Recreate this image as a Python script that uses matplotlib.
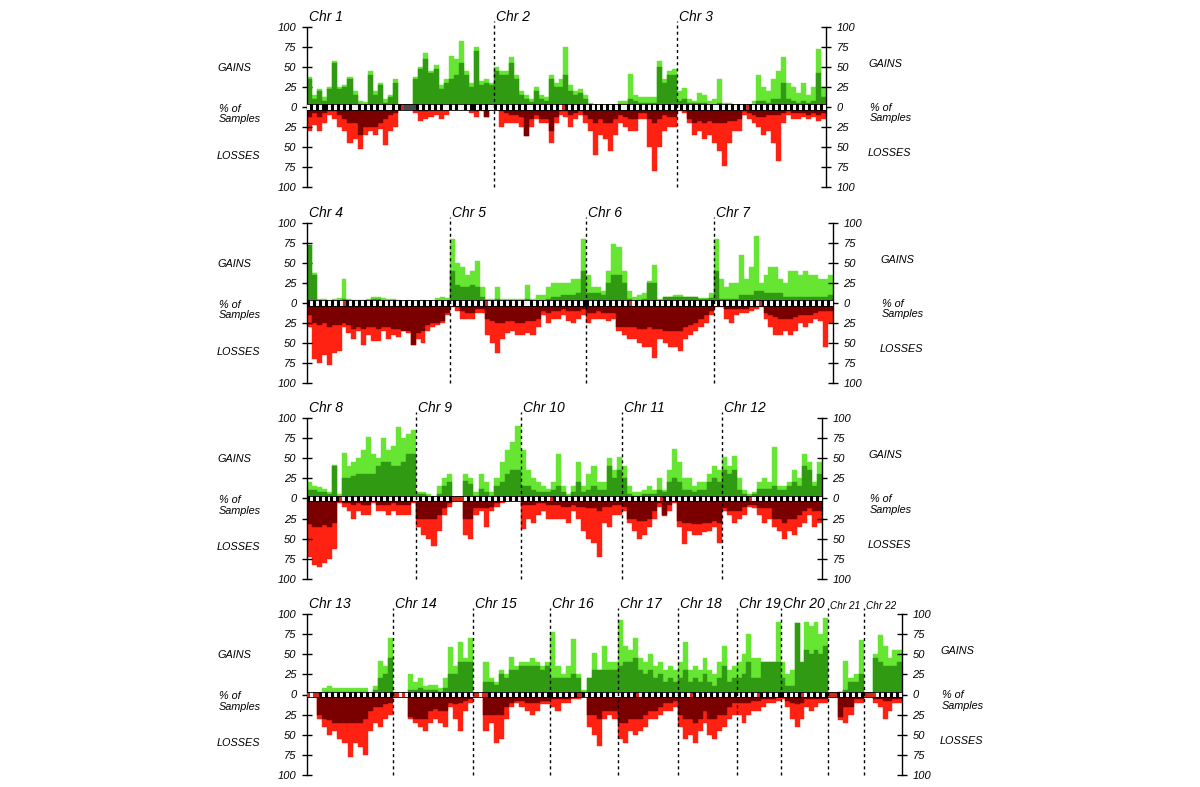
import numpy as np
import matplotlib.pyplot as plt

# ---------------------------------------------------------------
# chromosome sizes (Mb) and simplified ideogram band strings
# k = dark band, w = light band, r = centromere / acrocentric arm, g = heterochromatin
# ---------------------------------------------------------------
chrom_len = [249, 243, 198, 191, 181, 171, 159, 146, 141, 136, 135, 134,
             115, 107, 103, 90, 81, 78, 59, 63, 48, 51]
rows = [[1, 2, 3], [4, 5, 6, 7], [8, 9, 10, 11, 12],
        [13, 14, 15, 16, 17, 18, 19, 20, 21, 22]]

band1 = "wkwkwkkwkwkwkwkwwkwkwkwkwkwwkwk" + "r" + "gggg" + "kwkwkwkwkwwkwkwwkwkkwkwkww"
band2 = "kwkwkwkwkwkwwkwkwkwkwkw" + "r" + "kwkwkwkwkwkwkwkwkwkwwkwkwkwkwkwkwkwkwk"
band3 = "wkwkwkwkwkwkwwkwkwkwkwk" + "r" + "kwkwkwkwkwkwkwkwkwkwkwkwkw"
band4 = "kwkwkwkwkwkw" + "r" + "kwkwkwkwkwkwkwkwkwkwkwkwkwkwkwkwkwk"
band5 = "wkwkwkwkwkwk" + "r" + "wkwkwkwkwkwkwwkwkwkwkwkwkwkwkwkwk"
band6 = "kwkwkwkwkwkwkwk" + "r" + "wkwkwkwkwkwkwkwkwkwkwkwkwkwk"
band7 = "wkwkwkwkwkwkwkw" + "r" + "kwkwkwkwkwkwkwkwkwkwkwkw"
band8 = "kwkwkwkwkwk" + "r" + "wkwkwkwkwkwkwkwkwkwkwkwkw"
band9 = "wkwkwkwkwkwk" + "rrrr" + "wkwkwkwkwkwkwkwkwkw"
band10 = "kwkwkwkwkw" + "r" + "kwkwkwkwkwkwkwkwkwkwkwk"
band11 = "wkwkwkwkwkwkw" + "r" + "kwkwkwkwkwkwkwkwkwkw"
band12 = "kwkwkwkwk" + "r" + "wkwkwkwkwkwkwkwkwkwkwkw"
band13 = "rwrr" + "kwkwkwkwkwkwkwkwkwkwkwkwk"
band14 = "rrwr" + "wkwkwkwkwkwkwkwkwkwkwkw"
band15 = "rrwrr" + "kwkwkwkwkwkwkwkwkwkwk"
band16 = "kwkwkwkwk" + "rr" + "kwkwkwkwkwkw"
band17 = "wkwkwk" + "r" + "wkwkwkwkwkwkw"
band18 = "kwkw" + "r" + "kwkwkwkwkwkwkwk"
band19 = "wkwkwkw" + "r" + "kwkwkwk"
band20 = "kwkwkwk" + "r" + "wkwkwkwk"
band21 = "rrr" + "kwkwkwkwk"
band22 = "rrrr" + "wkwkwkwkw"

# ---------------------------------------------------------------
# % of samples, equal-width bins along each chromosome
# gain = all gains (light green), gain_hi = dark green
# loss = all losses (red), loss_hi = dark red
# ---------------------------------------------------------------
gain1 = [38, 15, 22, 12, 25, 58, 25, 28, 38, 20, 8, 6, 45, 20, 30, 10, 15, 35, 0, 0, 0,
         38, 50, 68, 45, 52, 28, 35, 64, 60, 83, 45, 30, 75, 32, 35, 30]
gain1_hi = [35, 10, 20, 8, 22, 55, 22, 25, 35, 15, 4, 3, 40, 15, 28, 5, 12, 30, 0, 0, 0,
            35, 48, 60, 42, 48, 22, 30, 35, 40, 55, 40, 25, 70, 28, 30, 28]
loss1 = [30, 22, 30, 20, 10, 15, 25, 30, 45, 40, 53, 35, 30, 35, 28, 47, 30, 25, 0, 0, 0,
         8, 18, 15, 12, 10, 15, 10, 2, 3, 2, 3, 8, 12, 5, 12, 4]
loss1_hi = [12, 8, 12, 8, 5, 5, 10, 15, 20, 20, 35, 25, 25, 25, 20, 15, 10, 8, 0, 0, 0,
            0, 5, 5, 3, 3, 3, 3, 1, 1, 1, 1, 3, 5, 3, 12, 2]

gain2 = [50, 45, 45, 62, 40, 20, 15, 10, 25, 15, 12, 40, 30, 35, 75, 28, 20, 22, 15,
         5, 3, 3, 3, 3, 3, 8, 8, 41, 15, 12, 12, 12, 12, 58, 35, 45, 47]
gain2_hi = [45, 40, 40, 55, 35, 15, 10, 6, 20, 10, 8, 35, 25, 25, 40, 20, 15, 18, 10,
            3, 2, 2, 2, 2, 2, 4, 4, 10, 8, 5, 5, 5, 5, 50, 30, 40, 40]
loss2 = [2, 25, 20, 20, 20, 25, 36, 25, 15, 20, 20, 45, 20, 10, 12, 25, 15, 10, 20,
         30, 60, 35, 40, 55, 35, 20, 25, 30, 30, 15, 15, 50, 80, 50, 30, 25, 25]
loss2_hi = [0, 5, 8, 10, 10, 12, 36, 15, 10, 15, 15, 30, 12, 5, 5, 10, 8, 5, 10,
            15, 20, 15, 20, 20, 15, 10, 12, 15, 15, 8, 8, 15, 20, 15, 10, 12, 12]

gain3 = [20, 24, 10, 8, 18, 15, 8, 10, 35, 5, 5, 3, 3, 2, 2, 8, 40, 25, 20, 35,
         45, 62, 30, 25, 18, 30, 15, 25, 72, 25]
gain3_hi = [8, 10, 5, 5, 5, 5, 3, 3, 5, 2, 2, 1, 1, 1, 1, 3, 8, 8, 5, 10,
            10, 30, 10, 8, 5, 8, 5, 8, 42, 12]
loss3 = [5, 8, 20, 35, 30, 40, 35, 45, 55, 74, 45, 30, 30, 10, 15, 20, 25, 35, 30, 45,
         68, 20, 10, 15, 15, 12, 15, 12, 18, 15]
loss3_hi = [3, 5, 15, 20, 18, 20, 18, 20, 20, 20, 18, 18, 15, 5, 8, 10, 12, 12, 10, 10,
            10, 8, 5, 8, 8, 8, 10, 8, 10, 8]

gain4 = [72, 38, 5, 5, 4, 5, 6, 30, 5, 4, 4, 4, 5, 8, 8, 6, 5, 5, 4, 3, 4, 3, 3, 4, 3, 3, 6, 7, 6]
gain4_hi = [72, 35, 2, 2, 2, 2, 3, 5, 2, 2, 2, 2, 3, 5, 5, 3, 3, 3, 2, 2, 2, 2, 2, 2, 2, 2, 2, 2, 2]
loss4 = [30, 70, 75, 65, 78, 62, 60, 30, 38, 45, 35, 52, 40, 48, 48, 35, 45, 40, 42, 35,
         38, 52, 45, 50, 35, 30, 28, 25, 15]
loss4_hi = [15, 25, 28, 25, 30, 28, 28, 25, 28, 32, 30, 32, 30, 30, 32, 30, 30, 32, 32, 35,
            35, 52, 38, 35, 28, 25, 25, 22, 12]

gain5 = [80, 50, 45, 35, 40, 53, 20, 5, 5, 20, 5, 5, 5, 5, 5, 22, 5, 10, 10, 20, 25, 25,
         25, 25, 30, 30, 80]
gain5_hi = [40, 22, 20, 20, 22, 20, 8, 2, 2, 5, 2, 2, 2, 2, 2, 5, 2, 3, 3, 5, 8, 8,
            10, 10, 10, 12, 40]
loss5 = [5, 10, 20, 20, 20, 12, 12, 40, 50, 62, 45, 38, 35, 40, 40, 38, 40, 30, 15, 25,
         20, 20, 15, 22, 25, 20, 15]
loss5_hi = [2, 5, 10, 12, 12, 8, 8, 20, 22, 25, 25, 22, 22, 25, 25, 22, 22, 20, 10, 12,
            10, 10, 8, 10, 10, 10, 8]

gain6 = [35, 20, 20, 15, 40, 74, 70, 40, 15, 8, 10, 12, 28, 47, 5, 8, 8, 10, 10, 8, 8, 8,
         6, 6, 12]
gain6_hi = [12, 12, 12, 10, 25, 35, 35, 25, 5, 3, 4, 5, 25, 25, 3, 8, 8, 8, 8, 8, 8, 8,
            5, 5, 6]
loss6 = [25, 20, 20, 20, 22, 20, 35, 40, 45, 45, 50, 55, 55, 69, 45, 50, 55, 55, 60, 45,
         40, 35, 30, 25, 15]
loss6_hi = [12, 12, 10, 12, 12, 12, 30, 30, 30, 30, 32, 32, 30, 32, 32, 35, 35, 35, 35, 30,
            28, 25, 20, 15, 10]

gain7 = [80, 30, 20, 25, 25, 60, 30, 45, 84, 25, 35, 45, 45, 30, 25, 40, 40, 35, 40, 35,
         35, 30, 30, 35]
gain7_hi = [40, 5, 5, 5, 5, 10, 10, 10, 15, 15, 12, 12, 12, 12, 8, 8, 8, 8, 8, 8,
            8, 8, 8, 10]
loss7 = [5, 5, 20, 25, 15, 12, 12, 10, 8, 5, 20, 30, 40, 40, 35, 40, 35, 25, 30, 25,
         20, 22, 55, 25]
loss7_hi = [2, 2, 8, 8, 8, 8, 8, 5, 5, 3, 12, 15, 18, 20, 20, 20, 18, 15, 15, 15,
            12, 10, 10, 10]

gain8 = [20, 16, 14, 12, 8, 41, 5, 56, 40, 45, 50, 60, 77, 55, 50, 75, 60, 65, 89, 75, 80, 85]
gain8_hi = [10, 10, 8, 8, 5, 40, 2, 25, 25, 28, 30, 30, 30, 30, 40, 45, 45, 40, 40, 45, 55, 55]
loss8 = [73, 82, 85, 80, 75, 63, 5, 10, 15, 25, 15, 20, 20, 5, 15, 15, 20, 15, 20, 20, 20, 5]
loss8_hi = [32, 35, 35, 33, 35, 30, 2, 5, 5, 8, 5, 8, 8, 3, 8, 8, 8, 5, 8, 8, 8, 3]

gain9 = [8, 8, 5, 3, 15, 25, 30, 0, 0, 30, 25, 8, 30, 20, 8, 25, 45, 60, 70, 90]
gain9_hi = [5, 5, 3, 2, 5, 15, 20, 0, 0, 22, 18, 3, 12, 8, 3, 15, 20, 30, 35, 35]
loss9 = [35, 45, 50, 59, 40, 20, 10, 0, 0, 45, 50, 20, 15, 35, 15, 10, 5, 3, 3, 3]
loss9_hi = [25, 25, 25, 25, 20, 12, 5, 0, 0, 25, 25, 12, 12, 12, 10, 5, 2, 1, 1, 1]

gain10 = [60, 35, 25, 20, 15, 12, 20, 55, 15, 5, 15, 45, 15, 30, 40, 20, 20, 50, 35, 52]
gain10_hi = [15, 15, 10, 8, 8, 8, 10, 15, 8, 3, 8, 20, 8, 10, 15, 10, 10, 40, 25, 35]
loss10 = [38, 25, 30, 20, 15, 25, 25, 25, 25, 30, 15, 25, 40, 50, 55, 73, 30, 35, 20, 20]
loss10_hi = [8, 8, 8, 5, 5, 8, 8, 8, 10, 10, 8, 10, 10, 12, 12, 15, 10, 10, 8, 8]

gain11 = [40, 15, 8, 8, 10, 15, 10, 25, 10, 35, 62, 45, 25, 25, 15, 20, 20, 30, 40, 35]
gain11_hi = [25, 5, 3, 3, 5, 5, 5, 10, 8, 20, 25, 20, 10, 10, 8, 10, 10, 20, 25, 20]
loss11 = [15, 30, 40, 50, 45, 35, 25, 10, 22, 15, 5, 35, 57, 40, 45, 45, 42, 40, 35, 55]
loss11_hi = [10, 25, 25, 28, 28, 25, 15, 5, 20, 8, 3, 28, 30, 30, 32, 32, 30, 30, 28, 30]

gain12 = [52, 40, 53, 25, 10, 5, 8, 20, 25, 20, 64, 15, 15, 20, 35, 25, 55, 45, 20, 45]
gain12_hi = [35, 30, 35, 10, 5, 3, 5, 12, 12, 12, 15, 10, 10, 15, 20, 15, 40, 35, 15, 30]
loss12 = [15, 20, 30, 25, 20, 10, 12, 20, 30, 25, 35, 40, 50, 40, 45, 35, 30, 20, 35, 30]
loss12_hi = [12, 15, 15, 15, 10, 8, 8, 12, 12, 12, 25, 25, 30, 25, 25, 20, 15, 12, 15, 15]

gain13 = [0, 0, 0, 8, 10, 8, 8, 8, 8, 8, 8, 8, 2, 10, 42, 35, 70]
gain13_hi = [0, 0, 0, 3, 3, 3, 3, 3, 3, 3, 3, 3, 1, 5, 20, 25, 45]
loss13 = [0, 0, 30, 40, 50, 45, 55, 60, 78, 60, 65, 75, 45, 35, 40, 30, 25]
loss13_hi = [0, 0, 25, 30, 32, 35, 35, 35, 35, 35, 35, 30, 20, 15, 15, 12, 10]

gain14 = [0, 0, 0, 26, 15, 20, 10, 12, 12, 8, 20, 59, 35, 65, 45, 70]
gain14_hi = [0, 0, 0, 5, 5, 8, 5, 5, 5, 3, 8, 25, 25, 40, 40, 40]
loss14 = [0, 0, 0, 30, 35, 40, 45, 35, 30, 35, 40, 15, 30, 45, 20, 10]
loss14_hi = [0, 0, 0, 28, 30, 30, 30, 20, 18, 20, 20, 10, 12, 10, 8, 5]

gain15 = [0, 0, 40, 20, 15, 30, 25, 47, 35, 40, 40, 45, 40, 35, 40]
gain15_hi = [0, 0, 15, 15, 12, 25, 20, 30, 30, 35, 35, 35, 35, 30, 35]
loss15 = [0, 0, 45, 35, 60, 55, 30, 15, 10, 15, 20, 25, 20, 12, 12]
loss15_hi = [0, 0, 25, 25, 25, 25, 15, 10, 8, 8, 10, 10, 10, 8, 8]

gain16 = [78, 35, 25, 35, 69, 25, 5, 20, 51, 30, 60, 40, 40]
gain16_hi = [20, 20, 20, 20, 25, 20, 3, 20, 30, 30, 30, 30, 30]
loss16 = [15, 20, 10, 10, 5, 5, 0, 40, 50, 64, 30, 25, 30]
loss16_hi = [5, 5, 5, 5, 3, 3, 0, 25, 25, 30, 20, 20, 20]

gain17 = [92, 60, 55, 70, 45, 40, 50, 35, 40, 30, 35, 30]
gain17_hi = [35, 40, 40, 45, 30, 25, 30, 20, 25, 15, 20, 15]
loss17 = [55, 60, 45, 50, 45, 40, 30, 30, 25, 20, 20, 15]
loss17_hi = [35, 35, 30, 30, 30, 25, 20, 20, 15, 10, 10, 8]

gain18 = [40, 65, 30, 35, 30, 45, 30, 25, 40, 60, 30, 35]
gain18_hi = [20, 30, 15, 20, 15, 25, 15, 10, 20, 35, 15, 20]
loss18 = [40, 55, 50, 60, 45, 35, 50, 55, 45, 40, 30, 25]
loss18_hi = [25, 30, 30, 35, 30, 20, 30, 30, 25, 25, 15, 10]

gain19 = [40, 50, 75, 45, 45, 40, 40, 40, 90]
gain19_hi = [20, 25, 40, 20, 20, 40, 40, 40, 40]
loss19 = [25, 35, 25, 20, 20, 15, 10, 10, 8]
loss19_hi = [10, 10, 10, 8, 8, 5, 5, 5, 3]

gain20 = [40, 25, 30, 89, 30, 90, 85, 90, 75, 95]
gain20_hi = [20, 10, 10, 89, 40, 55, 50, 55, 50, 60]
loss20 = [5, 15, 30, 40, 30, 15, 20, 15, 10, 10]
loss20_hi = [3, 8, 10, 12, 10, 5, 5, 5, 5, 5]

gain21 = [0, 0, 3, 41, 20, 25, 68]
gain21_hi = [0, 0, 3, 5, 15, 15, 25]
loss21 = [0, 0, 32, 35, 25, 10, 10]
loss21_hi = [0, 0, 28, 15, 15, 5, 5]

gain22 = [0, 0, 50, 74, 60, 45, 55, 55]
gain22_hi = [0, 0, 45, 40, 35, 35, 35, 40]
loss22 = [0, 0, 10, 15, 30, 20, 10, 10]
loss22_hi = [0, 0, 5, 5, 8, 8, 5, 5]

gains = [gain1, gain2, gain3, gain4, gain5, gain6, gain7, gain8, gain9, gain10, gain11,
         gain12, gain13, gain14, gain15, gain16, gain17, gain18, gain19, gain20, gain21, gain22]
gains_hi = [gain1_hi, gain2_hi, gain3_hi, gain4_hi, gain5_hi, gain6_hi, gain7_hi, gain8_hi,
            gain9_hi, gain10_hi, gain11_hi, gain12_hi, gain13_hi, gain14_hi, gain15_hi,
            gain16_hi, gain17_hi, gain18_hi, gain19_hi, gain20_hi, gain21_hi, gain22_hi]
losses = [loss1, loss2, loss3, loss4, loss5, loss6, loss7, loss8, loss9, loss10, loss11,
          loss12, loss13, loss14, loss15, loss16, loss17, loss18, loss19, loss20, loss21, loss22]
losses_hi = [loss1_hi, loss2_hi, loss3_hi, loss4_hi, loss5_hi, loss6_hi, loss7_hi, loss8_hi,
             loss9_hi, loss10_hi, loss11_hi, loss12_hi, loss13_hi, loss14_hi, loss15_hi,
             loss16_hi, loss17_hi, loss18_hi, loss19_hi, loss20_hi, loss21_hi, loss22_hi]
bands = [band1, band2, band3, band4, band5, band6, band7, band8, band9, band10, band11,
         band12, band13, band14, band15, band16, band17, band18, band19, band20, band21, band22]

ytick_vals = [100, 75, 50, 25, 0, -25, -50, -75, -100]
ytick_labels = ["100", "75", "50", "25", "0", "25", "50", "75", "100"]

# ---------------------------------------------------------------
# styling
# ---------------------------------------------------------------
LIGHT_GREEN = '#66e633'
DARK_GREEN = '#2f9a12'
RED = '#ff2212'
DARK_RED = '#7a0000'
BAND_COLORS = {'k': '#000000', 'w': '#f2f2f2', 'r': '#d42a1e', 'g': '#4a4a4a'}
BH = 3.2   # half height of the ideogram strip (in % units)
FONT = ['Liberation Sans', 'DejaVu Sans']

W, H = 1200, 787
# pixel boxes of the four panels: left, right, top, bottom
row_boxes = [(307, 826, 27, 187), (307, 833, 223, 383),
             (307, 822, 418, 579), (307, 902, 614, 775)]
right_label_x = [868, 880, 868, 940]

fig = plt.figure(figsize=(W / 100, H / 100), dpi=100)
fig.patch.set_facecolor('white')


def fpos(x, y):
    return x / W, 1 - y / H


for r, chroms in enumerate(rows):
    l, rr, t, b = row_boxes[r]
    ax = fig.add_axes([l / W, 1 - b / H, (rr - l) / W, (b - t) / H])
    total = sum(chrom_len[c - 1] for c in chroms)

    offset = 0
    for c in chroms:
        i = c - 1
        L = chrom_len[i]
        for vals, col, sign, z in [(gains[i], LIGHT_GREEN, 1, 1), (gains_hi[i], DARK_GREEN, 1, 2),
                                   (losses[i], RED, -1, 1), (losses_hi[i], DARK_RED, -1, 2)]:
            n = len(vals)
            w = L / n
            xs = offset + np.arange(n) * w
            ax.bar(xs, sign * np.array(vals, dtype=float), width=w, align='edge',
                   color=col, edgecolor=col, linewidth=0.3, zorder=z)

        # ideogram strip
        band = bands[i]
        m = len(band)
        bw = L / m
        bx = offset + np.arange(m) * bw
        ax.bar(bx, 2 * BH, bottom=-BH, width=bw, align='edge',
               color=[BAND_COLORS[ch] for ch in band], linewidth=0, zorder=4)

        # chromosome boundary and label
        if offset > 0:
            ax.plot([offset, offset], [0, 1.035], transform=ax.get_xaxis_transform(),
                    color='black', lw=1.0, ls=(0, (2.2, 2.2)), zorder=5, clip_on=False)
        fs = 7.2 if c >= 21 else 10
        ax.annotate(f"Chr {c}", xy=(offset, 1.0), xycoords=('data', 'axes fraction'),
                    xytext=(1.5, 2.5), textcoords='offset points', ha='left', va='bottom',
                    fontsize=fs, style='italic', family=FONT)
        offset += L

    ax.plot([0, total], [BH, BH], color='black', lw=0.6, zorder=5)
    ax.plot([0, total], [-BH, -BH], color='black', lw=0.6, zorder=5)

    ax.set_xlim(0, total)
    ax.set_ylim(-100, 100)
    ax.set_xticks([])
    ax.set_yticks(ytick_vals)
    ax.set_yticklabels(ytick_labels)
    ax.tick_params(axis='y', direction='inout', length=7, width=1.0, left=True, right=True,
                   labelleft=True, labelright=True, labelsize=8, pad=4)
    for lab in ax.get_yticklabels():
        lab.set_fontstyle('italic')
        lab.set_family(FONT)
    for s in ['top', 'bottom']:
        ax.spines[s].set_visible(False)
    for s in ['left', 'right']:
        ax.spines[s].set_linewidth(1.0)
    ax.set_facecolor('white')

    # side labels
    zero_y = (t + b) / 2
    for x0, dg, dm, dl in [(217, -39, 7, 49), (right_label_x[r], -43, 6, 46)]:
        fig.text(*fpos(x0, zero_y + dg), "GAINS", ha='left', va='center',
                 fontsize=7.8, style='italic', family=FONT)
        fig.text(*fpos(x0 + 2, zero_y + dm), "% of\nSamples", ha='left', va='center',
                 fontsize=7.8, style='italic', family=FONT, linespacing=1.1)
        fig.text(*fpos(x0, zero_y + dl), "LOSSES", ha='left', va='center',
                 fontsize=7.8, style='italic', family=FONT)

fig.savefig('out.png', dpi=100)
